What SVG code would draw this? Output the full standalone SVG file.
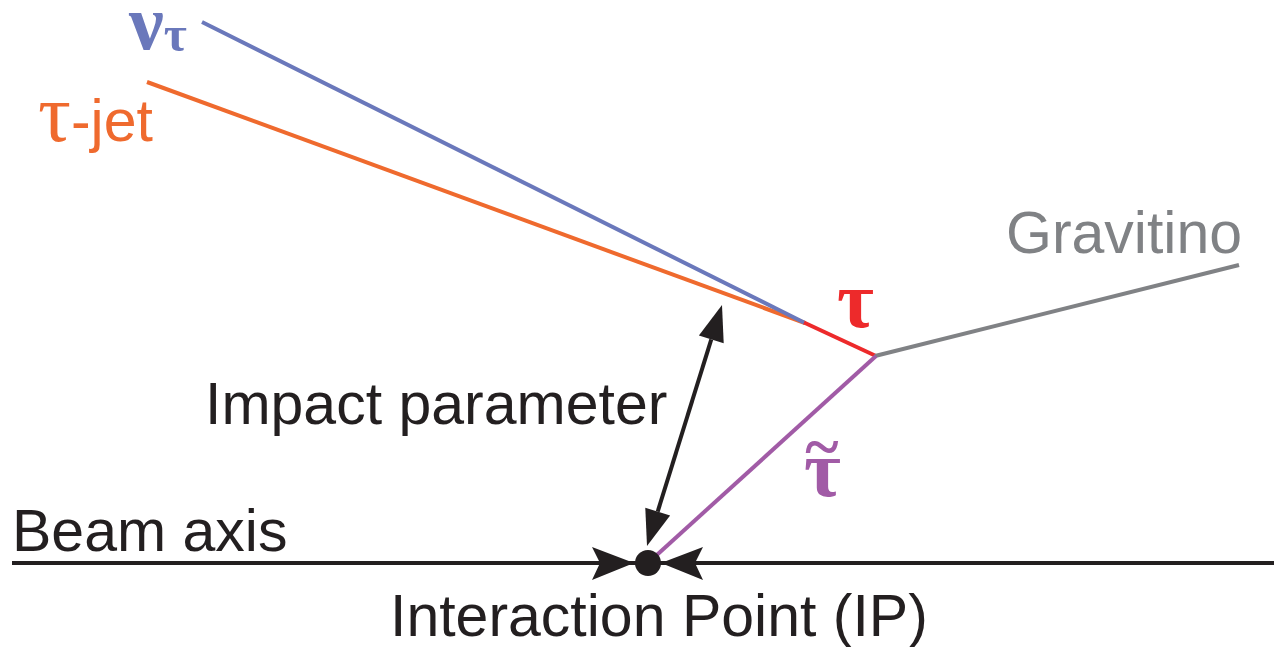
<svg xmlns="http://www.w3.org/2000/svg" width="1274" height="647" viewBox="0 0 1274 647">
  <style>
    .sans { font-family: "Liberation Sans", Arial, sans-serif; font-size: 59px; }
    .greek { font-family: "Liberation Serif", "DejaVu Serif", serif; font-weight: bold; }
    .trk { fill: none; stroke-width: 4; stroke-linecap: butt; }
  </style>
  <defs>
    <marker id="head" markerUnits="userSpaceOnUse" markerWidth="40" markerHeight="30" refX="0" refY="13" orient="auto-start-reverse" overflow="visible">
      <path d="M0,0 L36,13 L0,26 Z" fill="#231f20"/>
    </marker>
  </defs>
  <rect width="1274" height="647" fill="#ffffff"/>

  <g id="connectors">
    <line id="beam-axis-line" x1="12" y1="563" x2="1274" y2="563" stroke="#231f20" stroke-width="4"/>
    <line id="tau-jet-track" class="trk" x1="147" y1="82" x2="805" y2="323" stroke="#ef6a2e"/>
    <line id="nu-track" class="trk" x1="202" y1="22" x2="805" y2="323" stroke="#6a78bb"/>
    <line id="tau-track" class="trk" x1="804" y1="322.5" x2="876" y2="356" stroke="#ed2a2b"/>
    <line id="gravitino-track" class="trk" x1="875" y1="356" x2="1239" y2="265" stroke="#808285"/>
    <line id="stau-track" class="trk" x1="876" y1="356" x2="648" y2="563" stroke="#a15ba6"/>
    <line id="impact-arrow" x1="657.7" y1="511.6" x2="711.3" y2="339.4" stroke="#231f20" stroke-width="4" marker-start="url(#head)" marker-end="url(#head)"/>
    <path id="beam-arrow-left" d="M592,547 L634,563 L592,580 L600,563 Z" fill="#231f20"/>
    <path id="beam-arrow-right" d="M703,547 L661,563 L703,580 L695,563 Z" fill="#231f20"/>
  </g>

  <g id="ip">
    <circle cx="648" cy="563" r="13" fill="#231f20"/>
    <text class="sans" x="390" y="636" fill="#231f20">Interaction Point (IP)</text>
  </g>

  <g id="beam-axis">
    <text class="sans" x="12" y="551" fill="#231f20">Beam axis</text>
  </g>

  <g id="impact-parameter">
    <text class="sans" x="205" y="424" fill="#231f20">Impact parameter</text>
  </g>

  <g id="nu-tau">
    <text x="129" y="49" fill="#6a78bb"><tspan class="greek" font-size="78">ν</tspan><tspan class="greek" font-size="50" dy="2">τ</tspan></text>
  </g>

  <g id="tau-jet">
    <text x="38" y="141" fill="#ef6a2e"><tspan class="greek" font-size="82" style="font-weight:normal">τ</tspan><tspan class="sans">-jet</tspan></text>
  </g>

  <g id="tau">
    <text class="greek" x="837" y="327" fill="#ed2a2b" font-size="80">τ</text>
  </g>

  <g id="stau">
    <text class="greek" x="804" y="496" fill="#a15ba6" font-size="80">τ<tspan x="822" y="468" font-size="64" text-anchor="middle">~</tspan></text>
  </g>

  <g id="gravitino">
    <text class="sans" x="1006" y="253" fill="#808285">Gravitino</text>
  </g>
</svg>
